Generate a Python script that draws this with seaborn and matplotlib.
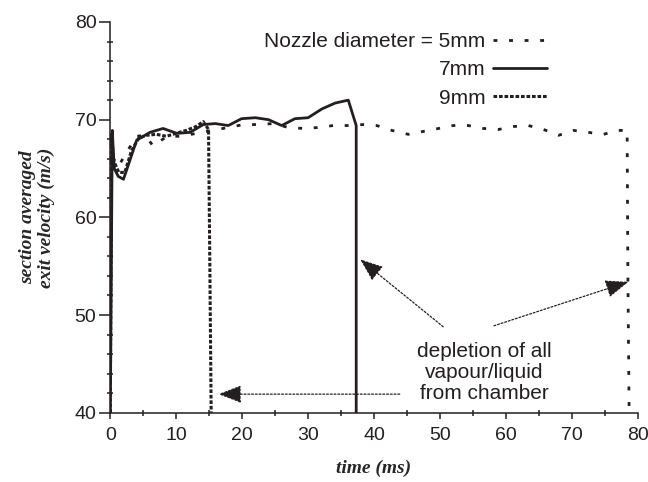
import numpy as np
import pandas as pd
import matplotlib
matplotlib.use("Agg")
import matplotlib.pyplot as plt
from matplotlib.ticker import MultipleLocator
import seaborn as sns

## datos (tiempo en ms, velocidad en m/s)
t_5mm = [0, 0.15, 0.5, 1.2, 2.7, 4.0, 5.3, 6.5, 8.6, 10.6, 13.1, 15.4, 17.9, 20.2,
         22.5, 24.7, 27.0, 29.3, 31.6, 33.8, 36.1, 38.4, 40.4, 42.7, 45.2, 47.5,
         49.8, 52.0, 54.3, 56.6, 58.9, 61.2, 63.4, 65.7, 68.0, 70.3, 72.5, 74.8,
         77.1, 78.4, 78.5, 78.7]
v_5mm = [40, 68.2, 66.0, 65.2, 66.9, 68.3, 68.4, 67.3, 68.3, 68.3, 68.6, 68.9, 69.2,
         69.5, 69.5, 69.6, 69.2, 69.1, 69.2, 69.4, 69.4, 69.5, 69.4, 68.9, 68.5,
         68.8, 69.1, 69.4, 69.4, 69.1, 69.0, 69.3, 69.4, 69.0, 68.4, 68.9, 68.7,
         68.5, 68.9, 68.9, 55.0, 40]

t_7mm = [0, 0.3, 0.6, 1.2, 2.0, 4.0, 6.0, 8.0, 10.1, 12.1, 14.1, 15.9, 17.9, 19.9,
         22.0, 24.0, 26.0, 28.0, 30.0, 32.1, 34.1, 36.1, 37.3, 37.3]
v_7mm = [40, 68.9, 65.0, 64.2, 63.9, 67.9, 68.7, 69.1, 68.6, 68.7, 69.5, 69.6,
         69.4, 70.1, 70.2, 70.0, 69.4, 70.1, 70.2, 71.1, 71.7, 72.0, 69.4, 40]

t_9mm = [0, 0.2, 0.5, 1.3, 2.2, 3.2, 4.3, 5.5, 7.0, 8.5, 10.0, 11.5, 13.0, 14.1,
         14.9, 15.1, 15.3]
v_9mm = [40, 68.5, 65.8, 64.6, 64.6, 66.8, 68.1, 68.4, 68.5, 68.3, 68.6, 68.9,
         69.3, 69.8, 69.0, 55.0, 40]

labels = ["Nozzle diameter = 5mm", "7mm", "9mm"]

sns.set_style("ticks")
plt.rcParams["font.family"] = ["Liberation Sans", "DejaVu Sans"]

negro = "#231f20"

fig = plt.figure(figsize=(6.48, 4.82), dpi=100)
ax = fig.add_axes([110.3 / 648, (482 - 412.7) / 482, (637.7 - 110.3) / 648, (412.7 - 22) / 482])

## las tres curvas
sns.lineplot(x=t_5mm, y=v_5mm, sort=False, estimator=None, ax=ax, color=negro,
             lw=2.0, linestyle=(0, (1.4, 4.2)), label=labels[0])
sns.lineplot(x=t_7mm, y=v_7mm, sort=False, estimator=None, ax=ax, color=negro,
             lw=2.0, linestyle="-", label=labels[1])
sns.lineplot(x=t_9mm, y=v_9mm, sort=False, estimator=None, ax=ax, color=negro,
             lw=2.2, linestyle=(0, (1.2, 0.6)), label=labels[2])

ax.set_xlim(0, 80)
ax.set_ylim(40, 80)
ax.xaxis.set_major_locator(MultipleLocator(10))
ax.xaxis.set_minor_locator(MultipleLocator(5))
ax.yaxis.set_major_locator(MultipleLocator(10))
ax.yaxis.set_minor_locator(MultipleLocator(2))
ax.tick_params(which="both", width=1.1, colors=negro, labelsize=14)
ax.tick_params(axis="x", which="major", direction="out", length=4.5, pad=6)
ax.tick_params(axis="y", which="major", direction="out", length=8, pad=2)
ax.tick_params(which="minor", direction="inout", length=5)
sns.despine(ax=ax)
for s in ["left", "bottom"]:
    ax.spines[s].set_linewidth(1.1)
    ax.spines[s].set_color(negro)

ax.set_xlabel("time (ms)", family="Liberation Serif", style="italic",
              weight="bold", fontsize=14, labelpad=11)
ax.set_ylabel("section averaged\nexit velocity (m/s)", family="Liberation Serif",
              style="italic", weight="bold", fontsize=14, labelpad=14,
              linespacing=1.1)

## leyenda con el texto a la izquierda
leg = ax.legend(loc="upper right", bbox_to_anchor=(547 / 648, 1 - 32 / 482),
                bbox_transform=fig.transFigure, frameon=False, markerfirst=False,
                fontsize=15, handlelength=2.6, handletextpad=0.35,
                labelspacing=0.45, borderpad=0, borderaxespad=0)
for txt in leg.get_texts():
    txt.set_color(negro)

## anotaciones
flecha = dict(arrowstyle="-|>,head_length=1.3,head_width=0.5", color=negro,
              lw=0.9, linestyle=(0, (1.5, 1.5)), mutation_scale=11,
              shrinkA=0, shrinkB=0)
ax.annotate("", xy=(37.9, 55.7), xytext=(50.5, 48.8), arrowprops=flecha)
ax.annotate("", xy=(78.6, 53.4), xytext=(58.2, 48.9), arrowprops=flecha)
ax.annotate("", xy=(16.4, 41.9), xytext=(43.9, 41.9), arrowprops=flecha)
ax.text(56.7, 44.1, "depletion of all\nvapour/liquid\nfrom chamber", ha="center",
        va="center", fontsize=15, color=negro, linespacing=1.15)

fig.savefig("out.png", dpi=100)
